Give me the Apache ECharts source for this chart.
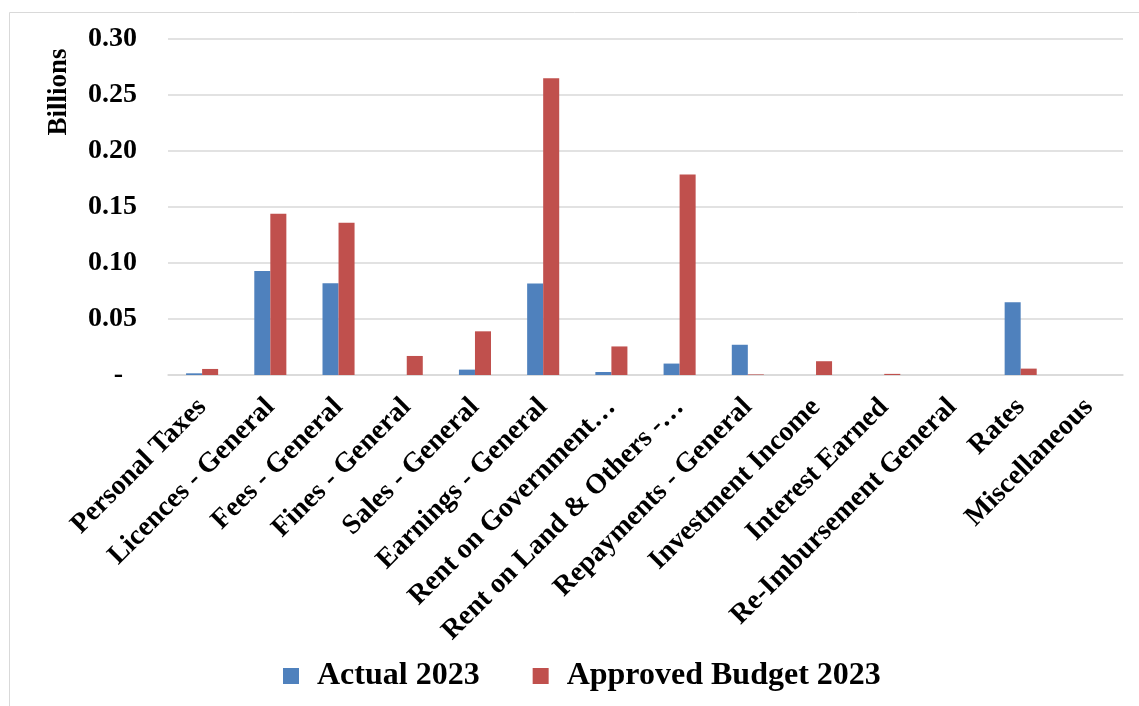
<!DOCTYPE html>
<html>
<head>
<meta charset="utf-8">
<script src="https://cdn.jsdelivr.net/npm/echarts@6/dist/echarts.min.js"></script>
<style>
html,body{margin:0;padding:0;background:#fff;}
#main{width:1139px;height:706px;}
</style>
</head>
<body>
<div id="main"></div>
<script>
var categories = ['Personal Taxes','Licences - General','Fees - General','Fines - General','Sales - General','Earnings - General','Rent on Government\u2026','Rent on Land & Others -\u2026','Repayments - General','Investment Income','Interest Earned','Re-Imbursement General','Rates','Miscellaneous'];
var actual2023 = [0.0015, 0.0928, 0.082, 0, 0.0048, 0.0816, 0.0027, 0.0102, 0.027, 0, 0, 0, 0.0649, 0];
var budget2023 = [0.0054, 0.144, 0.136, 0.017, 0.039, 0.265, 0.0255, 0.179, 0.0005, 0.0123, 0.001, 0, 0.0057, 0];
var seriesNames = ['Actual 2023', 'Approved Budget 2023'];

var font = 'Liberation Serif';
var chart = echarts.init(document.getElementById('main'));
chart.setOption({
  animation: false,
  backgroundColor: '#fff',
  graphic: [
    {type:'rect', left:7, top:10, shape:{x:0,y:0,width:1140,height:710}, style:{fill:'none', stroke:'#d9d9d9', lineWidth:1}, silent:true, z:-1},
    {type:'text', x:59, y:92, rotation:Math.PI/2, style:{text:'Billions', font:'bold 27px "Liberation Serif"', fill:'#000', align:'center', verticalAlign:'middle'}}
  ],
  grid: {left:168, right:16, top:39, bottom:331, containLabel:false},
  legend: {
    data: seriesNames, left:283, top:660, padding:0, itemWidth:16, itemHeight:16, itemGap:53,
    icon:'rect',
    textStyle:{fontFamily:font, fontWeight:'bold', fontSize:32, color:'#000', padding:[0,0,0,13]}
  },
  xAxis: {
    type:'category', data:categories,
    axisLine:{show:true, lineStyle:{color:'#d9d9d9', width:1.5}},
    axisTick:{show:false},
    axisLabel:{rotate:45, interval:0, margin:28, fontFamily:font, fontWeight:'bold', fontSize:28, color:'#000'}
  },
  yAxis: {
    type:'value', min:0, max:0.30, interval:0.05,
    axisLine:{show:false}, axisTick:{show:false},
    splitLine:{lineStyle:{color:'#d9d9d9', width:1.5}},
    axisLabel:{margin:31, fontFamily:font, fontWeight:'bold', fontSize:28, color:'#000',
      formatter:function(v){ return v === 0 ? '-  ' : v.toFixed(2); }}
  },
  series: [
    {name:seriesNames[0], type:'bar', data:actual2023, barGap:'0%', barCategoryGap:'53%', itemStyle:{color:'#4F81BD'}},
    {name:seriesNames[1], type:'bar', data:budget2023, barGap:'0%', barCategoryGap:'53%', itemStyle:{color:'#C0504D'}}
  ]
});
</script>
</body>
</html>
